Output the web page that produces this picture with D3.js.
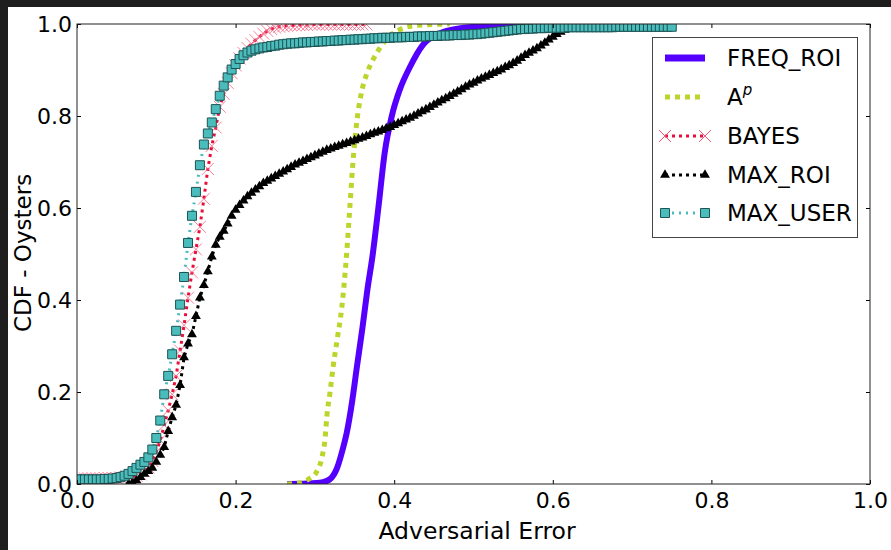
<!DOCTYPE html>
<html><head><meta charset="utf-8">
<script src="https://cdn.jsdelivr.net/npm/d3@7"></script>
<style>
html,body{margin:0;padding:0;background:#fff;}
svg{display:block;font-family:"DejaVu Sans",sans-serif;}
</style></head><body>
<svg id="c" width="891" height="550"></svg>
<script>
// Evaluation grid of adversarial error values
const gridX = [
0,0.005,0.01,0.015,0.02,0.025,0.03,0.035,0.04,0.045,
0.05,0.055,0.06,0.065,0.07,0.075,0.08,0.085,0.09,0.095,
0.1,0.105,0.11,0.115,0.12,0.125,0.13,0.135,0.14,0.145,
0.15,0.155,0.16,0.165,0.17,0.175,0.18,0.185,0.19,0.195,
0.2,0.205,0.21,0.215,0.22,0.225,0.23,0.235,0.24,0.245,
0.25,0.255,0.26,0.265,0.27,0.275,0.28,0.285,0.29,0.295,
0.3,0.305,0.31,0.315,0.32,0.325,0.33,0.335,0.34,0.345,
0.35,0.355,0.36,0.365,0.37,0.375,0.38,0.385,0.39,0.395,
0.4,0.405,0.41,0.415,0.42,0.425,0.43,0.435,0.44,0.445,
0.45,0.455,0.46,0.465,0.47,0.475,0.48,0.485,0.49,0.495,
0.5,0.505,0.51,0.515,0.52,0.525,0.53,0.535,0.54,0.545,
0.55,0.555,0.56,0.565,0.57,0.575,0.58,0.585,0.59,0.595,
0.6,0.605,0.61,0.615,0.62,0.625,0.63,0.635,0.64,0.645,
0.65,0.655,0.66,0.665,0.67,0.675,0.68,0.685,0.69,0.695,
0.7,0.705,0.71,0.715,0.72,0.725,0.73,0.735,0.74,0.745,
0.75];

// MAX_USER CDF (gridX[0..150])
const userY = [
0.010,0.010,0.010,0.010,0.010,0.010,0.010,0.011,0.011,0.012,
0.013,0.015,0.018,0.022,0.028,0.035,0.042,0.048,0.058,0.075,
0.100,0.138,0.195,0.235,0.282,0.333,0.390,0.450,0.524,0.583,
0.635,0.693,0.738,0.762,0.786,0.815,0.844,0.866,0.884,0.901,
0.913,0.924,0.932,0.938,0.942,0.945,0.947,0.949,0.950,0.952,
0.953,0.955,0.956,0.957,0.958,0.958,0.959,0.960,0.960,0.961,
0.961,0.962,0.962,0.963,0.963,0.964,0.964,0.965,0.965,0.966,
0.966,0.967,0.967,0.968,0.968,0.969,0.969,0.970,0.970,0.970,
0.971,0.971,0.971,0.972,0.972,0.972,0.973,0.973,0.973,0.974,
0.974,0.974,0.975,0.975,0.975,0.976,0.976,0.976,0.977,0.977,
0.978,0.978,0.979,0.980,0.981,0.982,0.983,0.984,0.985,0.986,
0.987,0.988,0.989,0.989,0.990,0.990,0.991,0.991,0.991,0.992,
0.992,0.992,0.992,0.992,0.993,0.993,0.993,0.993,0.993,0.993,
0.993,0.993,0.993,0.993,0.993,0.993,0.994,0.994,0.994,0.994,
0.994,0.994,0.994,0.994,0.994,0.994,0.994,0.994,0.994,0.994,
0.994];

// BAYES CDF (gridX[0..73])
const bayesY = [
0.012,0.012,0.012,0.012,0.012,0.012,0.012,0.013,0.013,0.013,
0.013,0.014,0.014,0.015,0.016,0.018,0.021,0.027,0.036,0.050,
0.070,0.095,0.128,0.160,0.195,0.235,0.290,0.345,0.405,0.460,
0.510,0.559,0.620,0.685,0.735,0.775,0.820,0.848,0.872,0.893,
0.910,0.925,0.937,0.948,0.957,0.965,0.972,0.979,0.985,0.989,
0.992,0.994,0.995,0.996,0.997,0.997,0.998,0.998,0.998,0.999,
0.999,0.999,0.999,0.999,0.999,0.999,0.999,0.999,0.999,0.999,
0.999,0.999,0.999,0.999];

// MAX_ROI CDF (gridX[13..126])
const roiStart = 13;
const roiY = [
0.000,0.003,0.008,0.015,0.022,0.028,0.035,0.048,0.063,0.080,
0.115,0.145,0.172,0.215,0.275,0.305,0.325,0.365,0.405,0.432,
0.462,0.494,0.520,0.537,0.550,0.566,0.583,0.596,0.606,0.616,
0.625,0.633,0.640,0.647,0.654,0.659,0.664,0.669,0.674,0.679,
0.684,0.689,0.694,0.698,0.702,0.706,0.710,0.714,0.718,0.722,
0.726,0.729,0.732,0.735,0.738,0.741,0.744,0.747,0.750,0.753,
0.756,0.760,0.763,0.766,0.769,0.773,0.776,0.780,0.784,0.788,
0.792,0.796,0.800,0.805,0.810,0.814,0.819,0.824,0.829,0.834,
0.838,0.843,0.848,0.853,0.858,0.863,0.868,0.872,0.877,0.881,
0.885,0.889,0.893,0.897,0.901,0.906,0.910,0.915,0.920,0.926,
0.932,0.937,0.942,0.947,0.953,0.959,0.966,0.972,0.978,0.983,
0.987,0.990,0.993,0.995];

// FREQ_ROI CDF
const freqX = [0.265,0.29,0.31,0.32,0.328,0.335,0.34,0.347,0.353,0.36,0.366,0.373,0.38,0.388,0.397,0.407,0.42,0.436,0.458,0.48,0.52,0.585];
const freqY = [0,0.001,0.004,0.012,0.035,0.075,0.11,0.18,0.255,0.34,0.42,0.5,0.6,0.72,0.8,0.857,0.907,0.954,0.98,0.99,0.996,1.0];

// A^p CDF
const apX = [0.265,0.28,0.294,0.302,0.309,0.313,0.315,0.319,0.323,0.328,0.334,0.34,0.344,0.348,0.353,0.358,0.365,0.372,0.382,0.395,0.41,0.43,0.47];
const apY = [0,0.002,0.013,0.026,0.059,0.102,0.146,0.198,0.255,0.313,0.385,0.5,0.6,0.7,0.79,0.845,0.89,0.918,0.948,0.975,0.99,0.997,1.0];

const xTicks = [0,0.2,0.4,0.6,0.8,1.0];
const yTicks = [0,0.2,0.4,0.6,0.8,1.0];
const legendLabels = ["FREQ_ROI","A","BAYES","MAX_ROI","MAX_USER"];

const W=891,H=550,L=77,R=870,T=24,B=484;
const svg=d3.select("#c");
const x=d3.scaleLinear().domain([0,1]).range([L,R]);
const y=d3.scaleLinear().domain([0,1]).range([B,T]);

svg.append("rect").attr("width",W).attr("height",H).attr("fill","#fff");
svg.append("rect").attr("x",0).attr("y",0).attr("width",W).attr("height",7).attr("fill","#1e1e1e");
svg.append("rect").attr("x",0).attr("y",0).attr("width",8).attr("height",H).attr("fill","#1e1e1e");

svg.append("clipPath").attr("id","clip").append("rect").attr("x",L).attr("y",T).attr("width",R-L).attr("height",B-T);
const plot=svg.append("g").attr("clip-path","url(#clip)");

const userData=gridX.map((v,i)=>[v,userY[i]]);
const bayesData=bayesY.map((v,i)=>[gridX[i],v]);
const roiData=roiY.map((v,i)=>[gridX[i+roiStart],v]);
const freqData=freqX.map((v,i)=>[v,freqY[i]]);
const apData=apX.map((v,i)=>[v,apY[i]]);

const lin=d3.line().x(d=>x(d[0])).y(d=>y(d[1]));
const smooth=d3.line().x(d=>x(d[0])).y(d=>y(d[1])).curve(d3.curveMonotoneX);

const C={blue:"#5500ff",green:"#bcd42c",red:"#e8103a",pink:"#f2587a",black:"#000",teal:"#4bbcbc",tealEdge:"#1d5454"};

const triPath=d3.symbol().type(d3.symbolTriangle).size(42)();
const sqPath=d3.symbol().type(d3.symbolSquare).size(81)();
const xPath="M-6,-6L6,6M-6,6L6,-6";

// FREQ_ROI
plot.append("path").attr("d",smooth(freqData)).attr("fill","none").attr("stroke",C.blue).attr("stroke-width",6);
// A^p
plot.append("path").attr("d",smooth(apData)).attr("fill","none").attr("stroke",C.green).attr("stroke-width",5).attr("stroke-dasharray","5,5");
// BAYES
plot.append("path").attr("d",lin(bayesData)).attr("fill","none").attr("stroke",C.red).attr("stroke-width",3).attr("stroke-dasharray","3,4");
plot.selectAll(".bx").data(bayesData).enter().append("path")
  .attr("d",xPath).attr("transform",d=>`translate(${x(d[0])},${y(d[1])})`)
  .attr("fill","none").attr("stroke",C.pink).attr("stroke-width",1).attr("opacity",0.75);
// MAX_ROI
plot.append("path").attr("d",lin(roiData)).attr("fill","none").attr("stroke",C.black).attr("stroke-width",3).attr("stroke-dasharray","3,4");
plot.selectAll(".rt").data(roiData).enter().append("path")
  .attr("d",triPath).attr("transform",d=>`translate(${x(d[0])},${y(d[1])})`).attr("fill",C.black);
// MAX_USER
plot.append("path").attr("d",lin(userData)).attr("fill","none").attr("stroke",C.teal).attr("stroke-width",3).attr("stroke-dasharray","2,5");
plot.selectAll(".us").data(userData).enter().append("path")
  .attr("d",sqPath).attr("transform",d=>`translate(${x(d[0])},${y(d[1])})`)
  .attr("fill",C.teal).attr("stroke",C.tealEdge).attr("stroke-width",1);

// Axes
const fmt=d3.format(".1f");
function styleAxis(g){g.select(".domain").remove();g.selectAll("text").attr("font-size",22).attr("font-family","DejaVu Sans").attr("fill","#000");g.selectAll("line").attr("stroke","#000");}
svg.append("g").attr("transform",`translate(0,${B})`)
  .call(d3.axisBottom(x).tickValues(xTicks).tickFormat(fmt).tickSizeInner(-4).tickSizeOuter(0).tickPadding(8)).call(styleAxis);
svg.append("g").attr("transform",`translate(0,${T})`)
  .call(d3.axisTop(x).tickValues(xTicks).tickFormat("").tickSizeInner(-4).tickSizeOuter(0)).call(styleAxis);
svg.append("g").attr("transform",`translate(${L},0)`)
  .call(d3.axisLeft(y).tickValues(yTicks).tickFormat(fmt).tickSizeInner(-4).tickSizeOuter(0).tickPadding(5)).call(styleAxis);
svg.append("g").attr("transform",`translate(${R},0)`)
  .call(d3.axisRight(y).tickValues(yTicks).tickFormat("").tickSizeInner(-4).tickSizeOuter(0)).call(styleAxis);
svg.append("rect").attr("x",L).attr("y",T).attr("width",R-L).attr("height",B-T).attr("fill","none").attr("stroke","#222").attr("stroke-width",1);

// Axis labels
svg.append("text").attr("x",477).attr("y",539).attr("text-anchor","middle").attr("font-size",23.5).text("Adversarial Error");
svg.append("text").attr("transform","translate(31,253) rotate(-90)").attr("text-anchor","middle").attr("font-size",23).text("CDF - Oysters");

// Legend
const lg=svg.append("g");
lg.append("rect").attr("x",652.5).attr("y",37.5).attr("width",205).attr("height",200).attr("fill","#fff").attr("stroke","#444");
const rowsY=[58,97,136,175,213];
const hx0=665,hx1=705,tx=727;
lg.append("line").attr("x1",hx0).attr("x2",hx1).attr("y1",rowsY[0]).attr("y2",rowsY[0]).attr("stroke",C.blue).attr("stroke-width",7);
lg.append("line").attr("x1",hx0).attr("x2",hx1).attr("y1",rowsY[1]).attr("y2",rowsY[1]).attr("stroke",C.green).attr("stroke-width",5).attr("stroke-dasharray","5,5");
lg.append("line").attr("x1",hx0).attr("x2",hx1).attr("y1",rowsY[2]).attr("y2",rowsY[2]).attr("stroke",C.red).attr("stroke-width",3).attr("stroke-dasharray","3,4");
[hx0,hx1].forEach(px=>lg.append("path").attr("d",xPath).attr("transform",`translate(${px},${rowsY[2]})`).attr("fill","none").attr("stroke",C.pink).attr("stroke-width",1));
lg.append("line").attr("x1",hx0).attr("x2",hx1).attr("y1",rowsY[3]).attr("y2",rowsY[3]).attr("stroke",C.black).attr("stroke-width",3).attr("stroke-dasharray","3,4");
[hx0,hx1].forEach(px=>lg.append("path").attr("d",triPath).attr("transform",`translate(${px},${rowsY[3]})`).attr("fill",C.black));
lg.append("line").attr("x1",hx0).attr("x2",hx1).attr("y1",rowsY[4]).attr("y2",rowsY[4]).attr("stroke",C.teal).attr("stroke-width",3).attr("stroke-dasharray","2,5");
[hx0,hx1].forEach(px=>lg.append("path").attr("d",sqPath).attr("transform",`translate(${px},${rowsY[4]})`).attr("fill",C.teal).attr("stroke",C.tealEdge).attr("stroke-width",1));
legendLabels.forEach((lab,i)=>{
  const t=lg.append("text").attr("x",tx).attr("y",rowsY[i]+8).attr("font-size",23).text(lab);
  if(i===1){t.append("tspan").attr("font-style","italic").attr("font-size",15).attr("dy",-10).text("p");}
});
</script>
</body></html>
